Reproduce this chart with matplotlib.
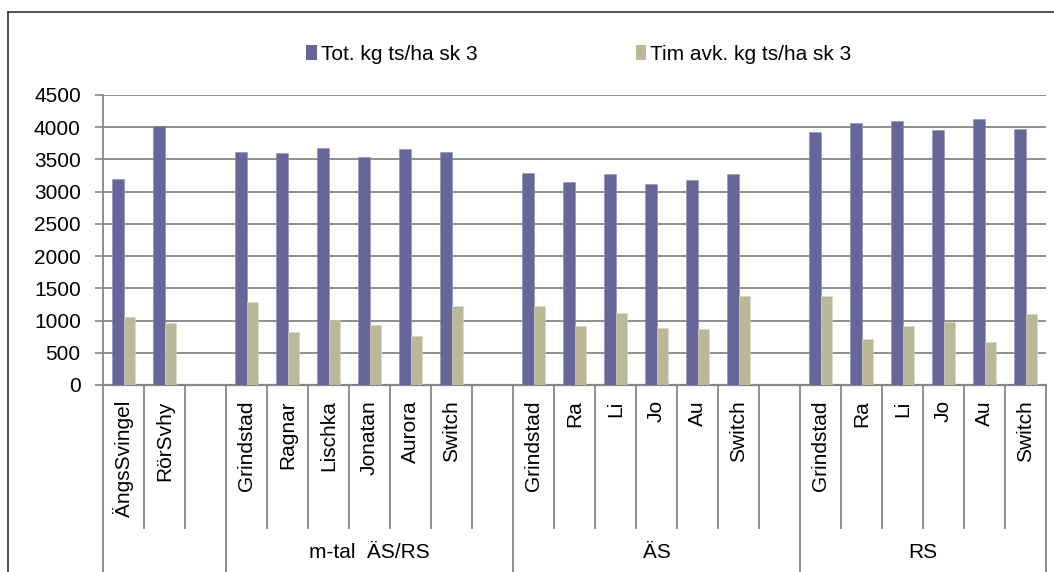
import numpy as np
import matplotlib
matplotlib.use("Agg")
import matplotlib.pyplot as plt
from matplotlib.lines import Line2D
from matplotlib.patches import Patch

plt.rcParams['font.family'] = ['Liberation Sans', 'DejaVu Sans']

categories = ['ÄngsSvingel', 'RörSvhy', '',
              'Grindstad', 'Ragnar', 'Lischka', 'Jonatan', 'Aurora', 'Switch', '',
              'Grindstad', 'Ra', 'Li', 'Jo', 'Au', 'Switch', '',
              'Grindstad', 'Ra', 'Li', 'Jo', 'Au', 'Switch']
tot = [3200, 4020, np.nan,
       3610, 3600, 3680, 3540, 3660, 3620, np.nan,
       3290, 3150, 3270, 3120, 3180, 3280, np.nan,
       3920, 4060, 4090, 3960, 4130, 3970]
tim = [1055, 955, np.nan,
       1295, 815, 1010, 930, 765, 1225, np.nan,
       1220, 915, 1110, 880, 870, 1380, np.nan,
       1380, 720, 920, 975, 675, 1095]
groups = ['', 'm-tal  ÄS/RS', 'ÄS', 'RS']
group_sizes = [3, 7, 7, 6]
series_names = ['Tot. kg ts/ha sk 3', 'Tim avk. kg ts/ha sk 3']
yticks = [0, 500, 1000, 1500, 2000, 2500, 3000, 3500, 4000, 4500]

c_blue = '#666699'
c_tan = '#BBB897'
grid_c = '#868686'
FS = 15

W, H = 1054, 572
fig = plt.figure(figsize=(W / 100, H / 100), dpi=100)
ax = fig.add_axes([103 / W, 1 - 385 / H, (1046 - 103) / W, (385 - 95) / H])

x = np.arange(len(categories))
bw = 0.285
ax.bar(x - bw / 2, tot, width=bw, color=c_blue, edgecolor='#8a8cbb', linewidth=0.4, zorder=3)
ax.bar(x + bw / 2, tim, width=bw, color=c_tan, edgecolor='#d8d6bf', linewidth=0.4, zorder=3)

ax.set_xlim(-0.5, len(categories) - 0.5)
ax.set_ylim(0, 4500)
ax.set_yticks(yticks)
ax.set_yticklabels([str(v) for v in yticks], fontsize=FS)
ax.tick_params(axis='y', length=6, width=1.2, color=grid_c, pad=10)
ax.yaxis.grid(True, color=grid_c, linewidth=1.3, zorder=0)
ax.set_axisbelow(True)

ax.set_xticks(x)
ax.set_xticklabels(categories, rotation=90, fontsize=FS)
ax.tick_params(axis='x', length=0, pad=11)

for s in ['top', 'right']:
    ax.spines[s].set_visible(False)
ax.spines['left'].set_color(grid_c)
ax.spines['left'].set_linewidth(1.3)
ax.spines['bottom'].set_color(grid_c)
ax.spines['bottom'].set_linewidth(1.6)

trans = ax.get_xaxis_transform()
bounds = [-0.5]
acc = -0.5
for g in group_sizes:
    acc += g
    bounds.append(acc)
short_bottom = -(528 - 385) / 290
long_bottom = -(600 - 385) / 290
for i in range(len(categories) - 1):
    b = i + 0.5
    if any(abs(b - bb) < 1e-9 for bb in bounds):
        continue
    ax.plot([b, b], [0, short_bottom], color=grid_c, linewidth=1.3, transform=trans, clip_on=False)
for bb in bounds:
    ax.plot([bb, bb], [0, long_bottom], color=grid_c, linewidth=1.3, transform=trans, clip_on=False)

label_y = -(553 - 385) / 290
for gi, g in enumerate(groups):
    cx = (bounds[gi] + bounds[gi + 1]) / 2
    ax.text(cx, label_y, g, transform=trans, ha='center', va='center', fontsize=FS)

handles = [Patch(facecolor=c_blue), Patch(facecolor=c_tan)]
fig.legend(handles, series_names, loc='center', bbox_to_anchor=(579 / W, 1 - 54 / H),
           ncol=2, frameon=False, fontsize=FS, handlelength=0.5, handleheight=0.7,
           handletextpad=0.2, columnspacing=7.6)

fx = 8 / W
fy = 1 - 12 / H
fig.add_artist(Line2D([fx, fx], [0, fy], color='#333333', linewidth=1.2))
fig.add_artist(Line2D([fx, 1], [fy, fy], color='#333333', linewidth=1.2))

fig.savefig('out.png', dpi=100)
